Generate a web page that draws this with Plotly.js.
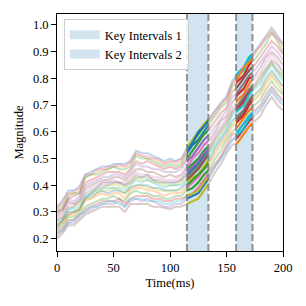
<!DOCTYPE html>
<html><head><meta charset="utf-8">
<script src="https://cdn.plot.ly/plotly-3.0.1.min.js"></script>
<style>html,body{margin:0;padding:0;background:#fff}</style>
</head><body><div id="chart" style="width:306px;height:306px"></div>
<script>
const timeMs = [0,5,10,15,20,25,30,35,40,45,50,55,60,65,70,75,80,85,90,95,100,105,110,115,120,125,130,135,140,145,150,155,160,165,170,175,180,185,190,195,200];

const s01 = [0.32,0.34,0.38,0.38,0.39,0.44,0.45,0.46,0.47,0.47,0.48,0.48,0.48,0.49,0.53,0.52,0.52,0.51,0.50,0.49,0.50,0.49,0.50,0.54,0.57,0.60,0.63,0.65,0.68,0.71,0.73,0.79,0.82,0.84,0.88,0.90,0.93,0.96,0.99,0.96,0.93];
const s02 = [0.31,0.33,0.37,0.37,0.38,0.43,0.44,0.45,0.46,0.46,0.47,0.47,0.47,0.48,0.52,0.51,0.50,0.50,0.49,0.48,0.49,0.48,0.49,0.53,0.56,0.59,0.62,0.64,0.67,0.70,0.72,0.78,0.81,0.83,0.87,0.89,0.92,0.95,0.98,0.95,0.92];
const s03 = [0.30,0.32,0.36,0.37,0.37,0.43,0.44,0.44,0.45,0.46,0.47,0.46,0.46,0.47,0.51,0.50,0.50,0.49,0.48,0.47,0.48,0.47,0.48,0.52,0.55,0.57,0.60,0.63,0.66,0.69,0.71,0.77,0.79,0.81,0.85,0.87,0.90,0.93,0.97,0.94,0.90];
const s04 = [0.30,0.31,0.35,0.36,0.37,0.41,0.42,0.43,0.44,0.45,0.45,0.45,0.44,0.46,0.49,0.48,0.49,0.48,0.47,0.46,0.47,0.46,0.47,0.50,0.53,0.56,0.59,0.61,0.64,0.67,0.69,0.75,0.77,0.80,0.83,0.85,0.88,0.91,0.94,0.92,0.89];
const s05 = [0.29,0.31,0.35,0.34,0.36,0.40,0.41,0.42,0.43,0.43,0.44,0.44,0.43,0.45,0.48,0.47,0.47,0.46,0.46,0.45,0.45,0.45,0.46,0.49,0.51,0.54,0.57,0.59,0.62,0.65,0.68,0.73,0.75,0.78,0.81,0.83,0.86,0.89,0.92,0.90,0.87];
const s06 = [0.28,0.30,0.34,0.33,0.35,0.39,0.40,0.41,0.42,0.42,0.43,0.43,0.42,0.44,0.46,0.46,0.45,0.45,0.44,0.43,0.44,0.43,0.44,0.47,0.50,0.52,0.55,0.57,0.60,0.64,0.66,0.71,0.74,0.76,0.80,0.81,0.84,0.88,0.90,0.88,0.85];
const s07 = [0.27,0.29,0.33,0.33,0.34,0.38,0.39,0.40,0.41,0.41,0.42,0.41,0.41,0.43,0.45,0.44,0.44,0.43,0.43,0.42,0.42,0.42,0.43,0.46,0.48,0.50,0.53,0.55,0.59,0.62,0.65,0.69,0.72,0.74,0.78,0.80,0.82,0.86,0.89,0.86,0.83];
const s08 = [0.25,0.27,0.29,0.30,0.31,0.35,0.37,0.39,0.41,0.41,0.41,0.41,0.40,0.41,0.43,0.43,0.43,0.42,0.41,0.41,0.41,0.41,0.42,0.44,0.46,0.48,0.51,0.53,0.57,0.60,0.63,0.67,0.69,0.72,0.75,0.77,0.80,0.83,0.86,0.83,0.81];
const s09 = [0.26,0.28,0.31,0.32,0.33,0.36,0.37,0.38,0.39,0.40,0.40,0.40,0.39,0.41,0.43,0.42,0.42,0.41,0.41,0.40,0.40,0.40,0.41,0.43,0.45,0.47,0.50,0.53,0.56,0.59,0.62,0.67,0.69,0.71,0.75,0.77,0.79,0.83,0.86,0.83,0.80];
const s10 = [0.25,0.27,0.31,0.31,0.32,0.36,0.37,0.38,0.39,0.39,0.39,0.39,0.38,0.40,0.42,0.41,0.42,0.41,0.40,0.39,0.40,0.40,0.40,0.42,0.44,0.46,0.49,0.52,0.55,0.58,0.61,0.66,0.68,0.70,0.74,0.76,0.78,0.82,0.85,0.82,0.79];
const s11 = [0.24,0.27,0.30,0.30,0.31,0.35,0.36,0.37,0.38,0.37,0.38,0.38,0.37,0.39,0.40,0.40,0.40,0.39,0.39,0.38,0.38,0.38,0.39,0.41,0.43,0.44,0.47,0.50,0.54,0.57,0.60,0.64,0.66,0.68,0.72,0.74,0.76,0.80,0.83,0.80,0.77];
const s12 = [0.24,0.26,0.29,0.29,0.31,0.34,0.35,0.36,0.37,0.36,0.37,0.37,0.35,0.38,0.39,0.39,0.38,0.38,0.37,0.36,0.37,0.37,0.37,0.39,0.41,0.43,0.46,0.48,0.52,0.55,0.58,0.62,0.64,0.66,0.70,0.72,0.74,0.78,0.81,0.78,0.75];
const s13 = [0.23,0.25,0.28,0.28,0.30,0.32,0.33,0.34,0.35,0.35,0.36,0.35,0.34,0.37,0.38,0.37,0.37,0.36,0.36,0.35,0.35,0.36,0.36,0.38,0.39,0.41,0.44,0.46,0.50,0.53,0.57,0.60,0.62,0.65,0.68,0.70,0.72,0.76,0.79,0.76,0.74];
const s14 = [0.22,0.24,0.27,0.27,0.29,0.31,0.32,0.33,0.34,0.34,0.34,0.35,0.33,0.35,0.36,0.36,0.36,0.35,0.35,0.34,0.34,0.35,0.35,0.36,0.37,0.39,0.42,0.45,0.48,0.51,0.55,0.59,0.60,0.63,0.66,0.68,0.70,0.74,0.77,0.74,0.72];
const s15 = [0.21,0.23,0.26,0.26,0.28,0.30,0.31,0.32,0.33,0.33,0.33,0.34,0.32,0.34,0.35,0.34,0.35,0.34,0.33,0.32,0.32,0.33,0.33,0.35,0.36,0.37,0.40,0.43,0.47,0.50,0.54,0.57,0.58,0.61,0.64,0.66,0.68,0.72,0.75,0.72,0.70];
const s16 = [0.20,0.22,0.25,0.25,0.27,0.29,0.30,0.31,0.32,0.32,0.32,0.32,0.30,0.33,0.33,0.33,0.33,0.32,0.32,0.315,0.31,0.32,0.32,0.33,0.34,0.35,0.38,0.41,0.45,0.48,0.52,0.55,0.56,0.59,0.62,0.64,0.66,0.70,0.73,0.70,0.68];
const s17 = [0.31,0.35,0.37,0.38,0.40,0.44,0.44,0.46,0.46,0.47,0.47,0.48,0.47,0.49,0.52,0.51,0.51,0.50,0.50,0.48,0.49,0.49,0.50,0.53,0.56,0.60,0.62,0.65,0.68,0.70,0.73,0.78,0.80,0.84,0.86,0.90,0.92,0.95,0.97,0.95,0.93];
const s18 = [0.27,0.28,0.32,0.32,0.34,0.37,0.38,0.39,0.40,0.40,0.41,0.41,0.40,0.42,0.44,0.43,0.44,0.42,0.42,0.41,0.41,0.41,0.42,0.45,0.47,0.49,0.52,0.54,0.58,0.61,0.64,0.68,0.70,0.73,0.76,0.78,0.81,0.84,0.87,0.85,0.82];
const s19 = [0.25,0.26,0.29,0.30,0.31,0.35,0.35,0.37,0.38,0.38,0.39,0.38,0.37,0.39,0.40,0.40,0.39,0.39,0.38,0.38,0.38,0.38,0.38,0.40,0.42,0.44,0.46,0.49,0.53,0.56,0.59,0.63,0.65,0.67,0.71,0.73,0.75,0.79,0.82,0.79,0.77];
const s20 = [0.22,0.23,0.26,0.27,0.29,0.30,0.32,0.32,0.33,0.34,0.34,0.33,0.32,0.35,0.35,0.35,0.34,0.34,0.34,0.33,0.33,0.34,0.34,0.36,0.37,0.38,0.41,0.44,0.47,0.50,0.53,0.57,0.59,0.61,0.65,0.67,0.69,0.72,0.76,0.73,0.71];

const seriesList = [s01,s02,s03,s04,s05,s06,s07,s08,s09,s10,s11,s12,s13,s14,s15,s16,s17,s18,s19,s20];

const keyInterval1 = [115, 134];
const keyInterval2 = [158.5, 173];
const intervalLabels = ['Key Intervals 1', 'Key Intervals 2'];
const xTicks = [0, 50, 100, 150, 200];
const yTicks = [0.2, 0.3, 0.4, 0.5, 0.6, 0.7, 0.8, 0.9, 1.0];

/* styles */
const tab10 = ['#1f77b4','#ff7f0e','#2ca02c','#d62728','#9467bd','#8c564b','#e377c2','#7f7f7f','#bcbd22','#17becf'];
const hl1Color = [8,2,0,2,4,6,2,0,7,5,8,6,2,6,0,8,0,4,2,8];
const hl2Color = [9,9,3,5,7,3,1,5,3,9,7,3,1,9,3,1,1,7,5,9];
function rgba(hex, a){const n=parseInt(hex.slice(1),16);return `rgba(${n>>16},${(n>>8)&255},${n&255},${a})`;}
const FONT = '"Liberation Serif","Times New Roman","DejaVu Serif",serif';
const SPAN_FILL = 'rgba(31,119,180,0.2)';
const X_MAX = 200;

const traces = [];
seriesList.forEach((s,i)=>traces.push({x:timeMs,y:s,type:'scatter',mode:'lines',xaxis:'x',yaxis:'y',
  line:{color:rgba(tab10[i%10],0.3),width:2},showlegend:false,hoverinfo:'skip'}));
seriesList.forEach((s,i)=>traces.push({x:timeMs,y:s,type:'scatter',mode:'lines',xaxis:'x2',yaxis:'y',
  line:{color:tab10[hl1Color[i]],width:2},showlegend:false,hoverinfo:'skip'}));
seriesList.forEach((s,i)=>traces.push({x:timeMs,y:s,type:'scatter',mode:'lines',xaxis:'x3',yaxis:'y',
  line:{color:tab10[hl2Color[i]],width:2},showlegend:false,hoverinfo:'skip'}));
/* legend entries (patch-like swatches) */
intervalLabels.forEach(lbl=>traces.push({x:[null],y:[null],type:'scatter',mode:'lines',xaxis:'x',yaxis:'y',
  name:lbl,line:{color:SPAN_FILL,width:9},showlegend:true,hoverinfo:'skip'}));

const intervals = [keyInterval1, keyInterval2];
const shapes = [];
intervals.forEach(iv=>{
  shapes.push({type:'rect',xref:'x',yref:'paper',x0:iv[0],x1:iv[1],y0:0,y1:1,
    fillcolor:SPAN_FILL,line:{width:0},layer:'below'});
});
intervals.forEach(iv=>iv.forEach(xv=>{
  shapes.push({type:'line',xref:'x',yref:'paper',x0:xv,x1:xv,y0:0,y1:1,
    line:{color:'rgba(128,128,128,0.85)',width:2,dash:'7px,3px'},layer:'above'});
}));

const axCommon = {showline:true,linecolor:'#000',linewidth:1,mirror:true,ticks:'outside',ticklen:5,tickwidth:1,
  tickcolor:'#000',showgrid:false,zeroline:false,tickfont:{family:FONT,size:12.5,color:'#000'}};

const layout = {
  width:306,height:306,margin:{l:57,r:23,t:14,b:55},
  paper_bgcolor:'#fff',plot_bgcolor:'rgba(0,0,0,0)',
  font:{family:FONT,size:12.5,color:'#000'},
  xaxis:Object.assign({},axCommon,{range:[0,X_MAX],tickvals:xTicks,domain:[0,1],
    title:{text:'Time(ms)',font:{family:FONT,size:12.5},standoff:4}}),
  xaxis2:{domain:[keyInterval1[0]/X_MAX,keyInterval1[1]/X_MAX],range:keyInterval1,anchor:'y',visible:false,fixedrange:true},
  xaxis3:{domain:[keyInterval2[0]/X_MAX,keyInterval2[1]/X_MAX],range:keyInterval2,anchor:'y',visible:false,fixedrange:true},
  yaxis:Object.assign({},axCommon,{range:[0.154,1.041],tickvals:yTicks,tickformat:'.1f',
    title:{text:'Magnitude',font:{family:FONT,size:12.5},standoff:6}}),
  shapes:shapes,
  showlegend:true,
  legend:{x:0.03,y:0.978,xanchor:'left',yanchor:'top',bgcolor:'rgba(255,255,255,0.85)',bordercolor:'#cccccc',borderwidth:1,
    font:{family:FONT,size:12.5,color:'#000'},tracegroupgap:0,itemwidth:30}
};
Plotly.newPlot('chart',traces,layout,{displayModeBar:false,staticPlot:true});
</script></body></html>
